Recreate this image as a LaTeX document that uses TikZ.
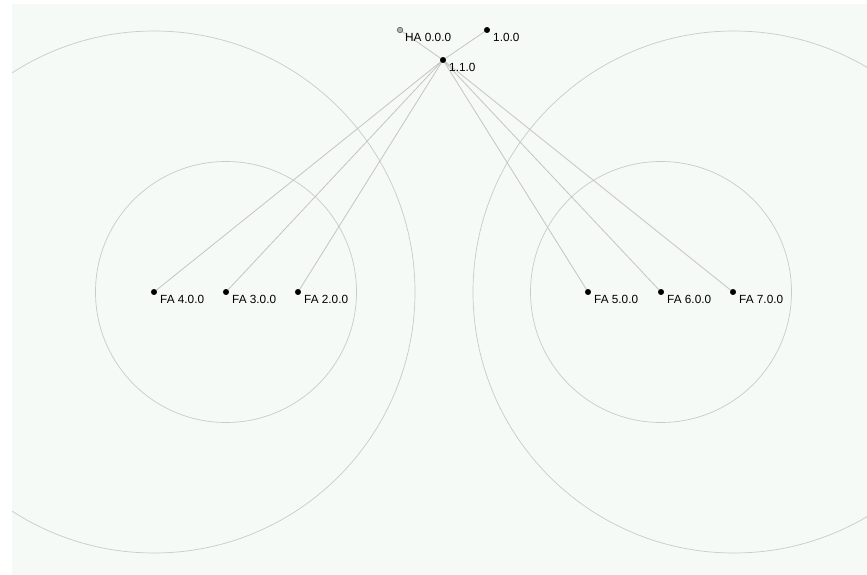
\documentclass[tikz,border=0pt]{standalone}
\usepackage{fontspec}
\setmainfont{Liberation Sans}
\definecolor{bgc}{HTML}{F5FAF6}
\definecolor{ringc}{HTML}{C8CCC8}
\definecolor{linkc}{HTML}{C4C4C4}
\begin{document}
\begin{tikzpicture}[x=1pt,y=-1pt,
  dot/.style={circle,fill=black,draw=black,inner sep=0pt,minimum size=5.5pt},
  hadot/.style={circle,fill=gray!60,draw=black!70,line width=0.5pt,inner sep=0pt,minimum size=5.5pt},
  lbl/.style={anchor=west,font=\fontsize{11.8}{13}\selectfont,inner sep=0pt},
  ring/.style={draw=ringc,line width=0.7pt},
  link/.style={draw=linkc,line width=0.8pt}]
\useasboundingbox (0,0) rectangle (867,575);
\fill[white] (0,0) rectangle (867,575);
\fill[bgc] (12,4) rectangle (867,575);
\begin{scope}
\clip (12,4) rectangle (867,575);
\draw[ring] (154,292) circle (261);
\draw[ring] (226,292) circle (130.5);
\draw[ring] (734,292) circle (261);
\draw[ring] (661,292) circle (130.5);
\end{scope}
\coordinate (ha) at (400,30);
\coordinate (n100) at (487,30);
\coordinate (n110) at (443,60);
\coordinate (fa4) at (154,292);
\coordinate (fa3) at (226,292);
\coordinate (fa2) at (298,292);
\coordinate (fa5) at (588,292);
\coordinate (fa6) at (661,292);
\coordinate (fa7) at (733,292);
\foreach \t in {ha,n100,fa4,fa3,fa2,fa5,fa6,fa7}
  \draw[link] (n110) -- (\t);
\node[hadot] (haD) at (ha) {};
\foreach \t in {n100,n110,fa4,fa3,fa2,fa5,fa6,fa7}
  \node[dot] (\t D) at (\t) {};
\node[lbl] (lha) at (405,37) {HA 0.0.0};
\node[lbl] (l100) at (493,37) {1.0.0};
\node[lbl] (l110) at (449,67) {1.1.0};
\node[lbl] (lfa4) at (160,299) {FA 4.0.0};
\node[lbl] (lfa3) at (232,299) {FA 3.0.0};
\node[lbl] (lfa2) at (304,299) {FA 2.0.0};
\node[lbl] (lfa5) at (594,299) {FA 5.0.0};
\node[lbl] (lfa6) at (667,299) {FA 6.0.0};
\node[lbl] (lfa7) at (739,299) {FA 7.0.0};
\end{tikzpicture}
\end{document}
